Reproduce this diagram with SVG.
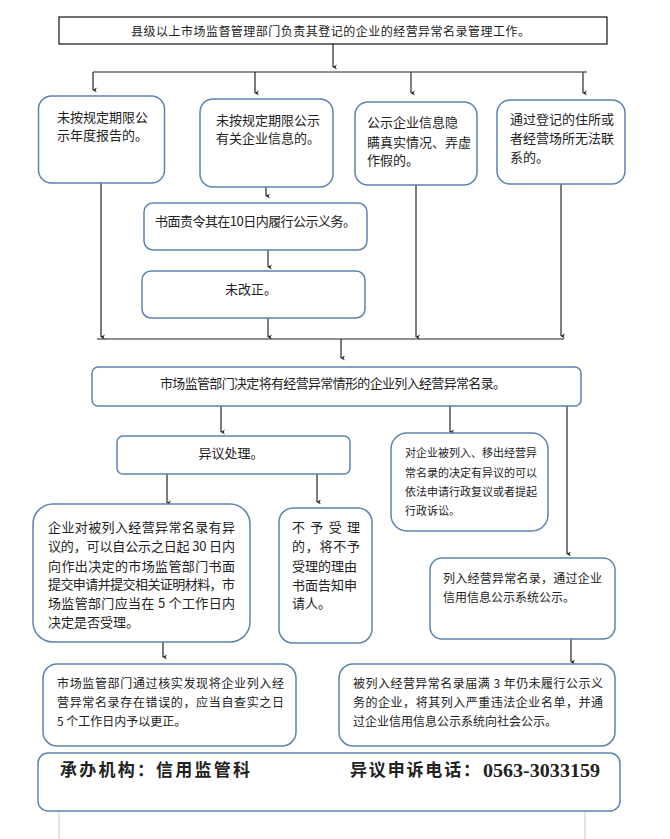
<svg xmlns="http://www.w3.org/2000/svg" width="670" height="839" viewBox="0 0 670 839">
<defs>
<marker id="ah" markerWidth="6" markerHeight="6" refX="3" refY="5" orient="auto-start-reverse" markerUnits="userSpaceOnUse" viewBox="0 0 6 6">
<path d="M0.5,1 L3,5.5 L5.5,1 L3,2.5 Z" fill="#222"/>
</marker>
<style>
.b{fill:#fff;stroke:#5b83b3;stroke-width:1.5}
.t{font-family:"Noto Sans CJK SC","Noto Sans",sans-serif;font-size:13px;fill:#222}
.s{font-size:12px}
.x{font-size:11px}
.c{stroke:#222;stroke-width:1.2;fill:none}
.g{stroke:#555;stroke-width:1.5;fill:none}
.f{font-family:"Noto Sans CJK SC","Liberation Serif",serif;font-size:17px;font-weight:bold;fill:#222}
</style>
</defs>
<rect width="670" height="839" fill="#fff"/>

<g id="connectors">
<line class="c" x1="333" y1="44" x2="333" y2="67" marker-end="url(#ah)"/>
<line class="c" x1="93" y1="72" x2="587" y2="72"/>
<line class="c" x1="93" y1="72" x2="93" y2="90" marker-end="url(#ah)"/>
<line class="c" x1="255" y1="72" x2="255" y2="93" marker-end="url(#ah)"/>
<line class="g" x1="411" y1="72" x2="411" y2="93" marker-end="url(#ah)"/>
<line class="g" x1="583" y1="72" x2="583" y2="93" marker-end="url(#ah)"/>
<line class="c" x1="101" y1="183" x2="101" y2="337" marker-end="url(#ah)"/>
<line class="c" x1="266" y1="187" x2="266" y2="196" marker-end="url(#ah)"/>
<line class="g" x1="268" y1="250" x2="268" y2="267" marker-end="url(#ah)"/>
<line class="g" x1="268" y1="318" x2="268" y2="337" marker-end="url(#ah)"/>
<line class="g" x1="416" y1="185" x2="416" y2="337" marker-end="url(#ah)"/>
<line class="g" x1="561" y1="184" x2="561" y2="336" marker-end="url(#ah)"/>
<line class="c" x1="97" y1="339" x2="564" y2="339"/>
<line class="c" x1="341" y1="339" x2="341" y2="358" marker-end="url(#ah)"/>
<line class="c" x1="221" y1="406" x2="221" y2="432" marker-end="url(#ah)"/>
<line class="c" x1="450" y1="406" x2="450" y2="432" marker-end="url(#ah)"/>
<line class="c" x1="567" y1="406" x2="567" y2="554" marker-end="url(#ah)"/>
<line class="c" x1="167" y1="474" x2="167" y2="503" marker-end="url(#ah)"/>
<line class="c" x1="317" y1="474" x2="317" y2="502" marker-end="url(#ah)"/>
<line class="c" x1="163" y1="642" x2="163" y2="657" marker-end="url(#ah)"/>
<line class="c" x1="571" y1="639" x2="571" y2="662" marker-end="url(#ah)"/>
<line stroke="#c8c8c8" stroke-width="1" x1="59" y1="811" x2="59" y2="839"/>
<line stroke="#c8c8c8" stroke-width="1" x1="585" y1="811" x2="585" y2="839"/>
</g>

<g id="top">
<rect x="59" y="17" width="548" height="27" fill="#fff" stroke="#111" stroke-width="1.2"/>
<text class="t s" x="131" y="36" textLength="399" lengthAdjust="spacing">县级以上市场监督管理部门负责其登记的企业的经营异常名录管理工作。</text>
</g>

<g id="n1">
<rect class="b" x="38.5" y="96" width="126" height="87" rx="13"/>
<text class="t"><tspan x="57" y="122">未按规定期限公</tspan><tspan x="57" y="140">示年度报告的。</tspan></text>
</g>
<g id="n2">
<rect class="b" x="200" y="99" width="133" height="88" rx="13"/>
<text class="t"><tspan x="216" y="125">未按规定期限公示</tspan><tspan x="216" y="143">有关企业信息的。</tspan></text>
</g>
<g id="n3">
<rect class="b" x="355" y="102" width="122" height="83" rx="13"/>
<text class="t"><tspan x="367" y="127">公示企业信息隐</tspan><tspan x="367" y="147">瞒真实情况、弄虚</tspan><tspan x="367" y="165">作假的。</tspan></text>
</g>
<g id="n4">
<rect class="b" x="497" y="100" width="128" height="84" rx="13"/>
<text class="t"><tspan x="510" y="124">通过登记的住所或</tspan><tspan x="510" y="143">者经营场所无法联</tspan><tspan x="510" y="162">系的。</tspan></text>
</g>

<g id="n5">
<rect class="b" x="144" y="203" width="223" height="47" rx="9"/>
<text class="t" x="155" y="226" textLength="201" lengthAdjust="spacing">书面责令其在10日内履行公示义务。</text>
</g>
<g id="n6">
<rect class="b" x="142" y="271" width="223" height="47" rx="9"/>
<text class="t" x="251" y="294" text-anchor="middle">未改正。</text>
</g>

<g id="n7">
<rect class="b" x="92" y="367" width="489" height="39" rx="6"/>
<text class="t" x="160" y="388" textLength="346" lengthAdjust="spacing">市场监管部门决定将有经营异常情形的企业列入经营异常名录。</text>
</g>

<g id="n8">
<rect class="b" x="117" y="436" width="233" height="38" rx="6"/>
<text class="t" x="231" y="458" text-anchor="middle">异议处理。</text>
</g>

<g id="n9">
<rect class="b" x="391" y="433" width="157" height="98" rx="16"/>
<text class="t x"><tspan x="405" y="457">对企业被列入、移出经营异</tspan><tspan x="405" y="477">常名录的决定有异议的可以</tspan><tspan x="405" y="496">依法申请行政复议或者提起</tspan><tspan x="405" y="515">行政诉讼。</tspan></text>
</g>

<g id="n10">
<rect class="b" x="33" y="504" width="217" height="138" rx="20"/>
<text class="t"><tspan x="48" y="532" textLength="187" lengthAdjust="spacing">企业对被列入经营异常名录有异</tspan><tspan x="48" y="551" textLength="187" lengthAdjust="spacing">议的，可以自公示之日起 30 日内</tspan><tspan x="48" y="571" textLength="187" lengthAdjust="spacing">向作出决定的市场监管部门书面</tspan><tspan x="48" y="589" textLength="187" lengthAdjust="spacing">提交申请并提交相关证明材料，市</tspan><tspan x="48" y="608" textLength="187" lengthAdjust="spacing">场监管部门应当在 5 个工作日内</tspan><tspan x="48" y="627">决定是否受理。</tspan></text>
</g>

<g id="n11">
<rect class="b" x="279" y="508" width="93" height="135" rx="14"/>
<text class="t"><tspan x="292" y="532" textLength="68" lengthAdjust="spacing">不予受理</tspan><tspan x="292" y="551" textLength="68" lengthAdjust="spacing">的，将不予</tspan><tspan x="292" y="571">受理的理由</tspan><tspan x="292" y="590">书面告知申</tspan><tspan x="292" y="608">请人。</tspan></text>
</g>

<g id="n12">
<rect class="b" x="430" y="558" width="185" height="81" rx="12"/>
<text class="t s"><tspan x="443" y="583" textLength="159" lengthAdjust="spacing">列入经营异常名录，通过企业</tspan><tspan x="443" y="602">信用信息公示系统公示。</tspan></text>
</g>

<g id="n13">
<rect class="b" x="43" y="664" width="253" height="82" rx="14"/>
<text class="t s"><tspan x="57" y="688" textLength="227" lengthAdjust="spacing">市场监管部门通过核实发现将企业列入经</tspan><tspan x="57" y="707" textLength="227" lengthAdjust="spacing">营异常名录存在错误的，应当自查实之日</tspan><tspan x="57" y="726">5 个工作日内予以更正。</tspan></text>
</g>

<g id="n14">
<rect class="b" x="339" y="664" width="276" height="82" rx="14"/>
<text class="t s"><tspan x="353" y="688" textLength="250" lengthAdjust="spacing">被列入经营异常名录届满 3 年仍未履行公示义</tspan><tspan x="353" y="707" textLength="250" lengthAdjust="spacing">务的企业，将其列入严重违法企业名单，并通</tspan><tspan x="353" y="726">过企业信用信息公示系统向社会公示。</tspan></text>
</g>

<g id="footer">
<rect class="b" x="38" y="753" width="582" height="58" rx="10"/>
<text class="f" x="60" y="776" textLength="190" lengthAdjust="spacing">承办机构：信用监管科</text>
<text class="f" x="350" y="776" textLength="130" lengthAdjust="spacing">异议申诉电话：</text>
<text class="f" x="483" y="777" textLength="117" lengthAdjust="spacingAndGlyphs" style="font-family:'Liberation Serif',serif;font-size:19px">0563-3033159</text>
</g>
</svg>
